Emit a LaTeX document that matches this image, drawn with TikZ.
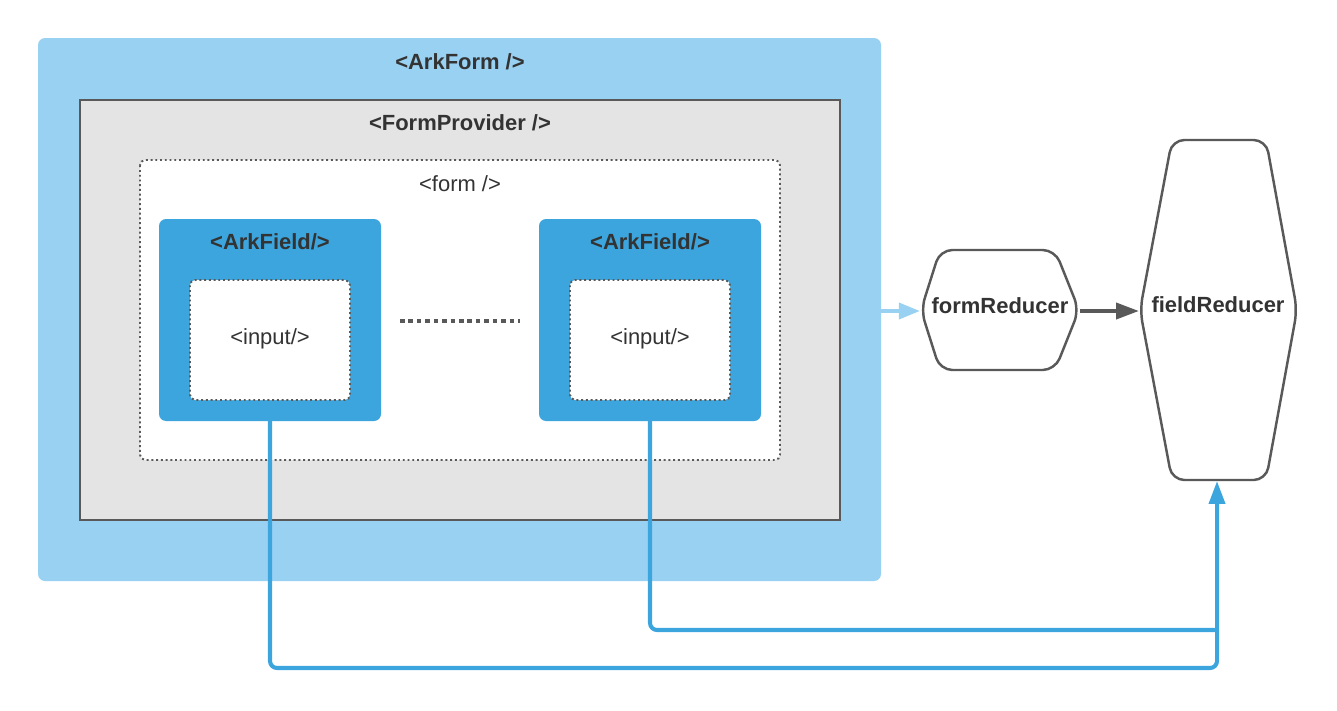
\documentclass[tikz,border=0pt]{standalone}
\usepackage{fontspec}
\setmainfont{Liberation Sans}
\usetikzlibrary{arrows.meta}
\definecolor{lightblue}{HTML}{99D1F3}
\definecolor{fieldblue}{HTML}{3CA5DD}
\definecolor{provgray}{HTML}{E4E4E4}
\definecolor{edgegray}{HTML}{595959}
\definecolor{txt}{HTML}{333333}
\tikzset{
  lbl/.style={font=\fontsize{12.5}{15}\selectfont, text=txt, inner sep=0pt},
  blbl/.style={lbl, font=\fontsize{12.5}{15}\selectfont\bfseries},
  dotbox/.style={draw=edgegray, fill=white, line width=1.1pt, dash pattern=on 1.1pt off 1.6pt, rounded corners=3pt},
  bluewire/.style={draw=fieldblue, line width=2.3pt, rounded corners=4pt},
  hexline/.style={draw=edgegray, line width=1.4pt, rounded corners=7pt, fill=white},
}
\begin{document}
\begin{tikzpicture}[x=0.02cm,y=-0.02cm]
\useasboundingbox (0,0) rectangle (1337,710);
% ArkForm
\fill[lightblue, rounded corners=4pt] (38,38) rectangle (881,581);
\node[blbl] (arkform) at (460,62) {<ArkForm />};
\coordinate (arkE) at (881,311);
% FormProvider
\draw[fill=provgray, draw=edgegray, line width=1.4pt] (80,100) rectangle (840,520);
\node[blbl] (provider) at (460,123) {<FormProvider />};
% form
\draw[dotbox] (140,160) rectangle (780,460);
\node[lbl] (form) at (460,184) {<form />};
% ArkFields
\fill[fieldblue, rounded corners=4pt] (159,219) rectangle (381,421);
\fill[fieldblue, rounded corners=4pt] (539,219) rectangle (761,421);
\node[blbl] (f1) at (270,242) {<ArkField/>};
\node[blbl] (f2) at (650,242) {<ArkField/>};
\coordinate (f1S) at (270,421);
\coordinate (f2S) at (650,421);
\draw[dotbox] (190,280) rectangle (350,400);
\draw[dotbox] (570,280) rectangle (730,400);
\node[lbl] (in1) at (270,339) {<input/>};
\node[lbl] (in2) at (650,339) {<input/>};
\coordinate (dotA) at (400,321);
\coordinate (dotB) at (520,321);
\draw[edgegray, line width=2pt, dash pattern=on 2.6pt off 2.2pt] (dotA) -- (dotB);
% formReducer
\draw[hexline] (921,310) -- (940,250) -- (1055,250) -- (1079,310) -- (1055,370) -- (940,370) -- cycle;
\node[blbl] (formR) at (1000,306) {formReducer};
\coordinate (frW) at (920,311);
\coordinate (frE) at (1080,311);
% fieldReducer
\draw[hexline] (1140,310) -- (1172,140) -- (1266,140) -- (1297,310) -- (1266,480) -- (1172,480) -- cycle;
\node[blbl] (fieldR) at (1218,305) {fieldReducer};
\coordinate (fdW) at (1139,311);
\coordinate (fdS) at (1217,481);
% connectors
\draw[lightblue, line width=2.3pt, -{Triangle[length=12pt,width=9pt]}] (arkE) -- (frW);
\draw[edgegray, line width=2.3pt, -{Triangle[length=13pt,width=9pt]}] (frE) -- (fdW);
\draw[bluewire] (f2S) |- (1217,630);
\draw[bluewire, -{Triangle[length=13pt,width=9pt]}] (f1S) |- (1217,668) -- (fdS);
\end{tikzpicture}
\end{document}
